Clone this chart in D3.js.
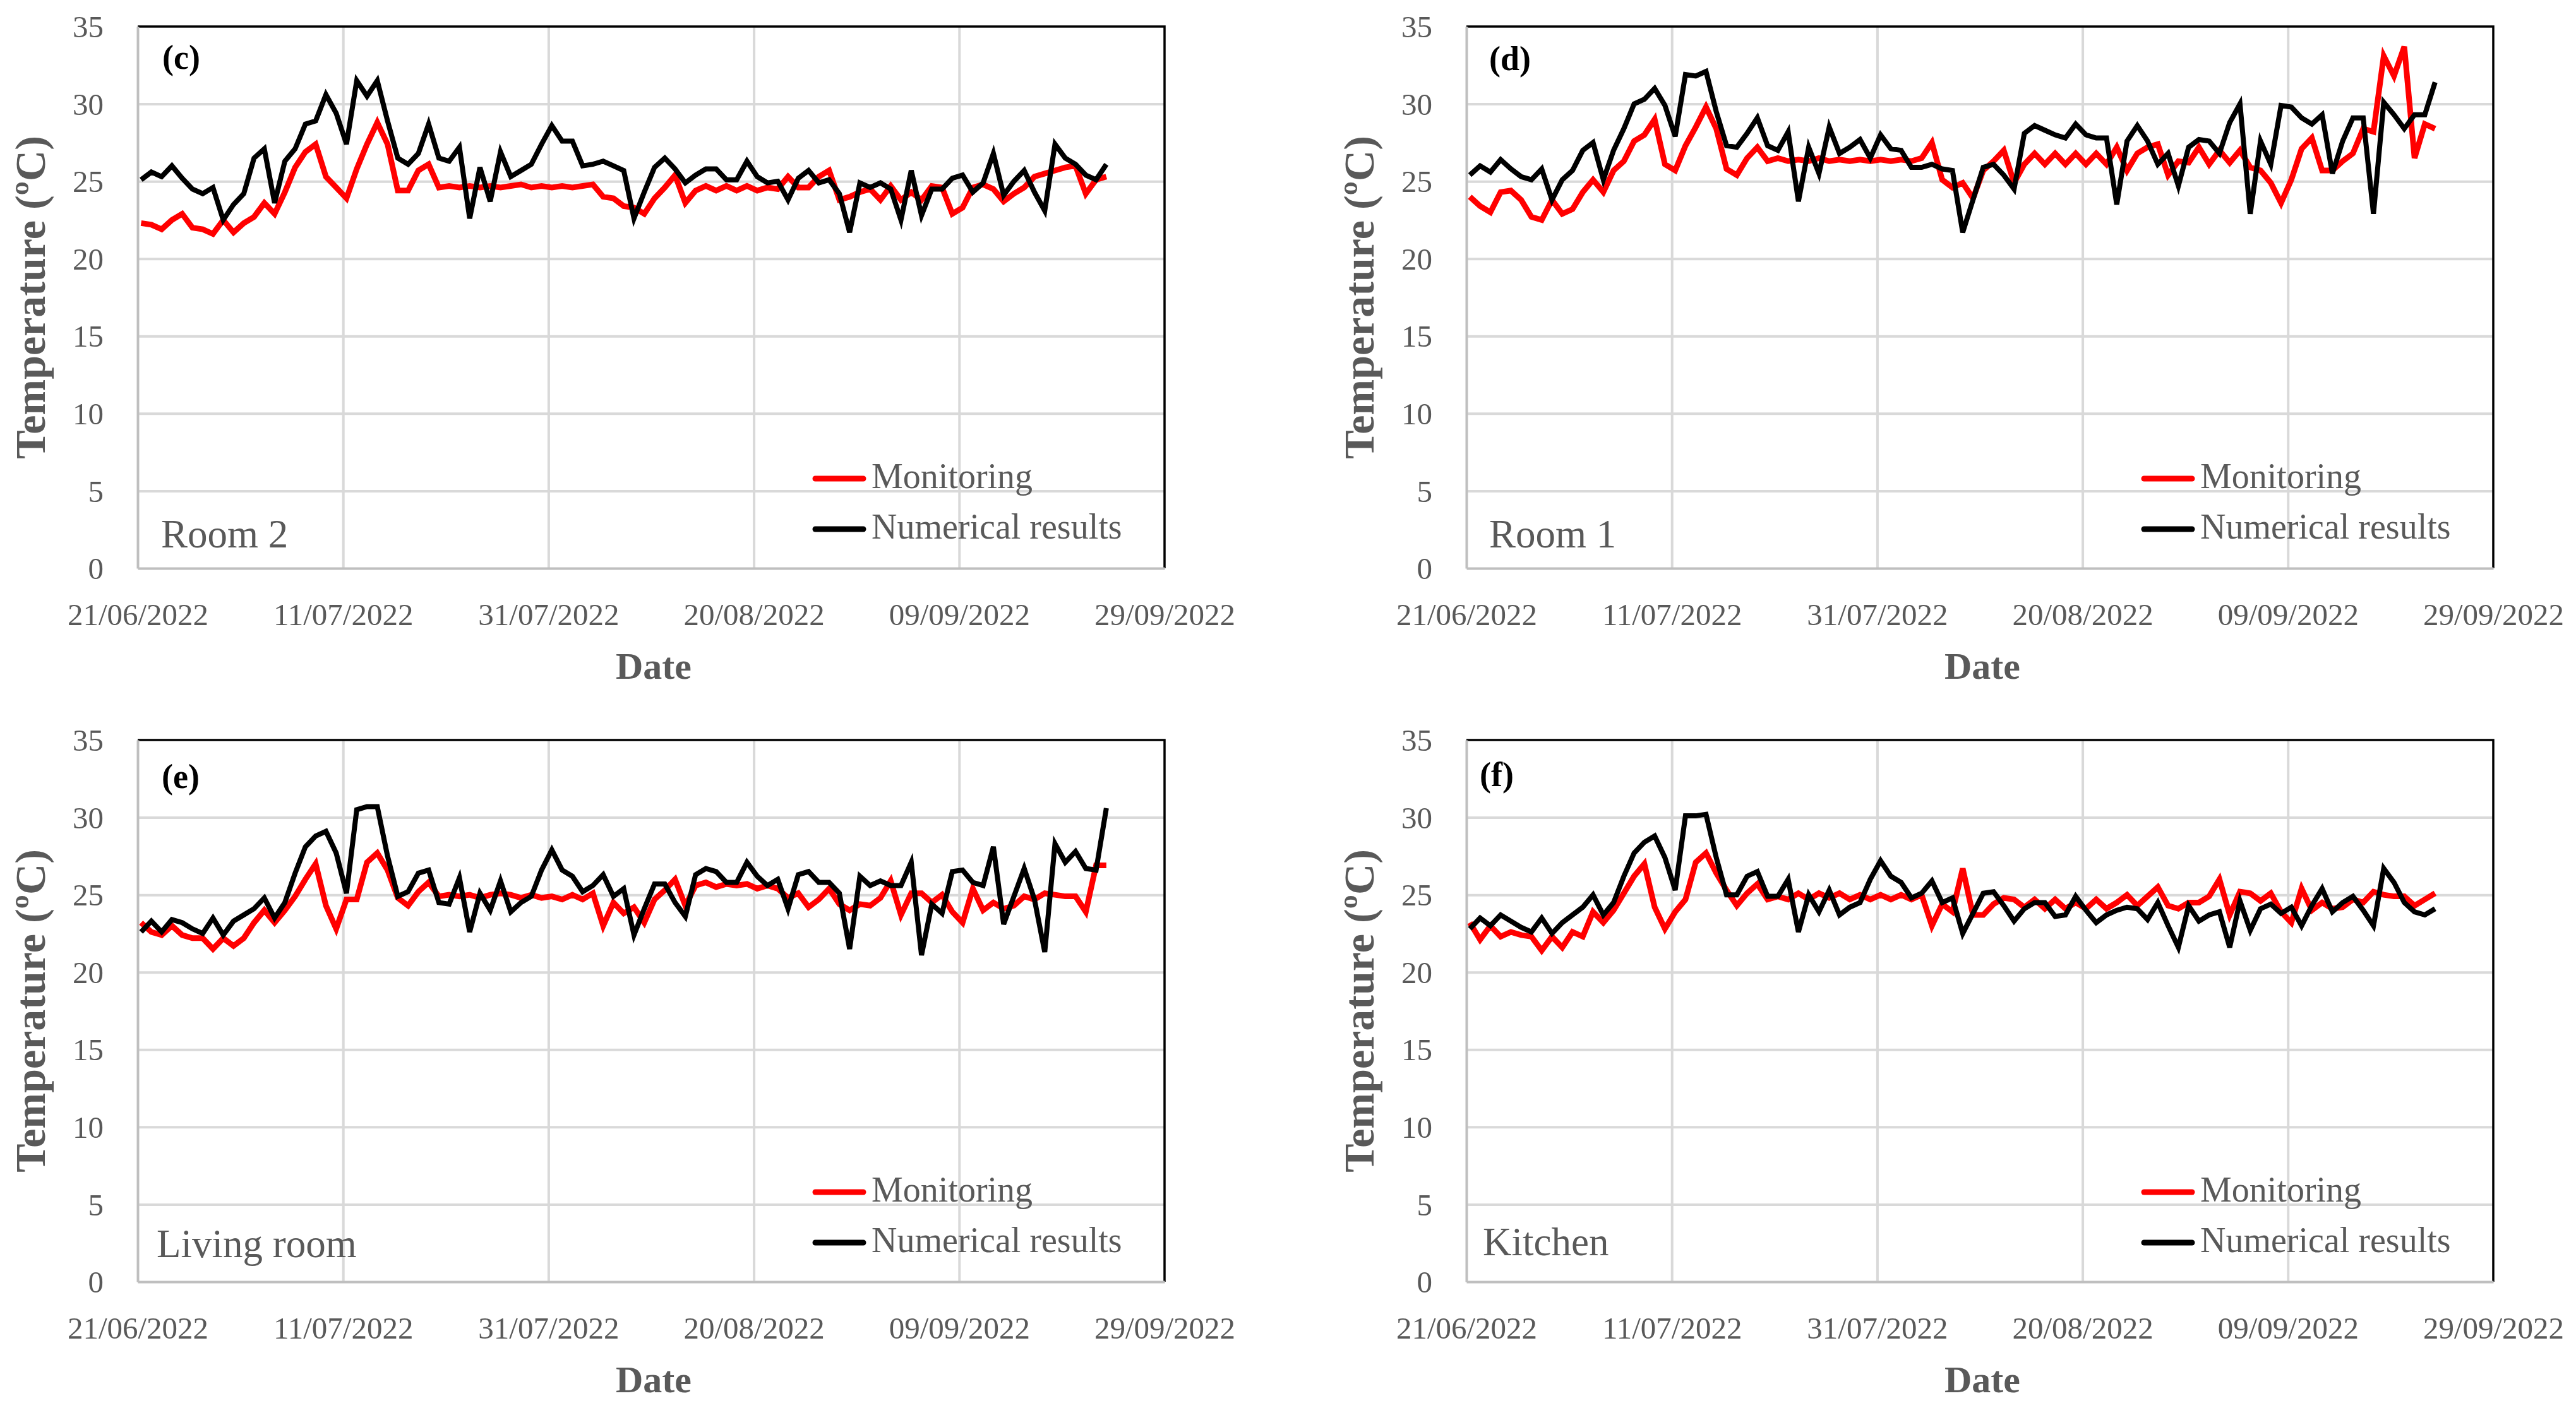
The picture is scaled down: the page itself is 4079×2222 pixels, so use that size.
<!DOCTYPE html>
<html>
<head>
<meta charset="utf-8">
<script src="https://cdn.jsdelivr.net/npm/d3@7"></script>
<style>
	body { margin: 0; background: #fff; }
</style>
</head>
<body>
<script>
// tick labels and category names
var xTickLabels = ['21/06/2022', '11/07/2022', '31/07/2022', '20/08/2022', '09/09/2022', '29/09/2022'],
	yTicks = [0, 5, 10, 15, 20, 25, 30, 35],
	panelIds = ['(c)', '(d)', '(e)', '(f)'],
	roomNames = ['Room 2', 'Room 1', 'Living room', 'Kitchen'],
	seriesNames = ['Monitoring', 'Numerical results'],
// first daily reading (just after the first tick)
	firstReading = '21/06/2022 08:00';

// daily values, one per day
var room2Monitoring = [22.3, 22.2, 21.9, 22.5, 22.9, 22.0, 21.9, 21.6, 22.5, 21.7,
	22.3, 22.7, 23.6, 22.9, 24.3, 25.9, 26.9, 27.4, 25.3, 24.6,
	23.9, 25.8, 27.4, 28.8, 27.4, 24.4, 24.4, 25.7, 26.1, 24.6,
	24.7, 24.6, 24.7, 24.6, 24.7, 24.6, 24.7, 24.8, 24.6, 24.7,
	24.6, 24.7, 24.6, 24.7, 24.8, 24.0, 23.9, 23.4, 23.3, 22.9,
	23.9, 24.6, 25.4, 23.6, 24.4, 24.7, 24.4, 24.7, 24.4, 24.7,
	24.4, 24.6, 24.5, 25.3, 24.6, 24.6, 25.3, 25.7, 23.8, 24.0,
	24.3, 24.5, 23.8, 24.7, 23.8, 24.3, 23.8, 24.7, 24.6, 22.9,
	23.3, 24.6, 24.8, 24.5, 23.7, 24.2, 24.6, 25.3, 25.5, 25.7,
	25.9, 26.0, 24.2, 25.1, 25.3];
var room2Numerical = [25.1, 25.6, 25.3, 26.0, 25.2, 24.5, 24.2, 24.6, 22.5, 23.5,
	24.2, 26.5, 27.1, 23.6, 26.3, 27.1, 28.7, 28.9, 30.6, 29.4,
	27.4, 31.5, 30.5, 31.5, 28.9, 26.5, 26.1, 26.8, 28.7, 26.5,
	26.3, 27.2, 22.6, 25.9, 23.7, 26.9, 25.3, 25.7, 26.1, 27.4,
	28.6, 27.6, 27.6, 26.0, 26.1, 26.3, 26.0, 25.7, 22.6, 24.3,
	25.9, 26.5, 25.8, 24.9, 25.4, 25.8, 25.8, 25.1, 25.1, 26.3,
	25.3, 24.9, 25.0, 23.8, 25.2, 25.7, 24.9, 25.1, 24.2, 21.7,
	24.9, 24.6, 24.9, 24.5, 22.5, 25.7, 22.8, 24.5, 24.5, 25.2,
	25.4, 24.3, 24.9, 26.8, 24.1, 25.0, 25.7, 24.3, 23.1, 27.4,
	26.5, 26.1, 25.4, 25.1, 26.1];
var room1Monitoring = [24.0, 23.4, 23.0, 24.3, 24.4, 23.8, 22.7, 22.5, 23.8, 22.9,
	23.2, 24.3, 25.1, 24.3, 25.7, 26.3, 27.6, 28.0, 29.0, 26.1,
	25.7, 27.3, 28.5, 29.8, 28.4, 25.8, 25.4, 26.5, 27.2, 26.3,
	26.5, 26.3, 26.4, 26.3, 26.5, 26.3, 26.4, 26.3, 26.4, 26.3,
	26.4, 26.3, 26.4, 26.3, 26.5, 27.5, 25.1, 24.6, 24.9, 23.9,
	25.7, 26.3, 27.0, 24.9, 26.1, 26.8, 26.1, 26.8, 26.1, 26.8,
	26.1, 26.8, 26.1, 27.2, 25.7, 26.8, 27.2, 27.4, 25.4, 26.3,
	26.2, 27.2, 26.1, 27.0, 26.2, 27.0, 25.9, 25.7, 24.9, 23.6,
	25.1, 27.1, 27.8, 25.7, 25.7, 26.3, 26.8, 28.4, 28.2, 33.1,
	31.8, 33.7, 26.5, 28.7, 28.4];
var room1Numerical = [25.4, 26.0, 25.6, 26.4, 25.8, 25.3, 25.1, 25.8, 23.8, 25.1,
	25.7, 27.0, 27.5, 25.1, 27.0, 28.4, 30.0, 30.3, 31.0, 29.9,
	27.9, 31.9, 31.8, 32.1, 29.5, 27.3, 27.2, 28.1, 29.1, 27.3,
	27.0, 28.2, 23.7, 27.2, 25.5, 28.5, 26.8, 27.2, 27.7, 26.5,
	28.0, 27.1, 27.0, 25.9, 25.9, 26.1, 25.8, 25.7, 21.7, 23.8,
	25.9, 26.1, 25.4, 24.5, 28.1, 28.6, 28.3, 28.0, 27.8, 28.7,
	28.0, 27.8, 27.8, 23.5, 27.6, 28.6, 27.6, 26.1, 26.8, 24.7,
	27.2, 27.7, 27.6, 26.8, 28.8, 30.0, 22.9, 27.6, 26.1, 29.9,
	29.8, 29.1, 28.7, 29.3, 25.5, 27.6, 29.1, 29.1, 22.9, 30.1,
	29.3, 28.4, 29.3, 29.3, 31.4];
var livingMonitoring = [23.2, 22.6, 22.4, 23.0, 22.4, 22.2, 22.2, 21.5, 22.2, 21.7,
	22.2, 23.2, 24.0, 23.2, 24.0, 24.9, 26.0, 27.0, 24.3, 22.8,
	24.7, 24.7, 27.1, 27.7, 26.6, 24.8, 24.3, 25.2, 25.8, 24.9,
	25.0, 24.9, 25.0, 24.8, 25.0, 25.1, 25.0, 24.8, 25.0, 24.8,
	24.9, 24.7, 25.0, 24.7, 25.1, 23.0, 24.5, 23.8, 24.2, 23.2,
	24.7, 25.3, 26.0, 24.3, 25.6, 25.8, 25.5, 25.7, 25.6, 25.7,
	25.4, 25.6, 25.4, 24.8, 25.1, 24.2, 24.7, 25.4, 24.4, 24.0,
	24.4, 24.3, 24.8, 25.9, 23.7, 25.1, 25.1, 24.5, 25.0, 23.9,
	23.2, 25.4, 24.0, 24.5, 24.1, 24.3, 24.9, 24.7, 25.1, 25.0,
	24.9, 24.9, 23.9, 26.9, 26.9];
var livingNumerical = [22.6, 23.3, 22.6, 23.4, 23.2, 22.8, 22.5, 23.5, 22.4, 23.3,
	23.7, 24.1, 24.8, 23.5, 24.5, 26.4, 28.1, 28.8, 29.1, 27.7,
	25.1, 30.5, 30.7, 30.7, 27.5, 24.9, 25.2, 26.4, 26.6, 24.5,
	24.4, 26.1, 22.6, 25.1, 24.0, 25.9, 23.9, 24.5, 24.9, 26.6,
	27.9, 26.6, 26.2, 25.2, 25.6, 26.3, 24.9, 25.4, 22.4, 24.1,
	25.7, 25.7, 24.5, 23.6, 26.3, 26.7, 26.5, 25.8, 25.8, 27.1,
	26.2, 25.6, 26.0, 24.1, 26.3, 26.5, 25.8, 25.8, 25.1, 21.5,
	26.2, 25.6, 25.9, 25.6, 25.6, 27.1, 21.1, 24.4, 23.8, 26.5,
	26.6, 25.8, 25.6, 28.1, 23.1, 24.9, 26.7, 24.7, 21.3, 28.3,
	27.1, 27.8, 26.7, 26.6, 30.6];
var kitchenMonitoring = [23.2, 22.1, 23.0, 22.3, 22.6, 22.4, 22.3, 21.4, 22.3, 21.6,
	22.6, 22.3, 23.9, 23.2, 24.0, 25.1, 26.2, 27.0, 24.2, 22.8,
	23.9, 24.7, 27.1, 27.7, 26.4, 25.3, 24.3, 25.1, 25.7, 24.7,
	24.9, 24.7, 25.1, 24.7, 25.1, 24.8, 25.1, 24.7, 25.0, 24.7,
	25.0, 24.7, 25.0, 24.7, 25.0, 23.0, 24.4, 23.9, 26.7, 23.7,
	23.7, 24.4, 24.8, 24.7, 24.2, 24.7, 24.1, 24.7, 24.1, 24.5,
	24.1, 24.7, 24.1, 24.5, 25.0, 24.3, 24.9, 25.5, 24.3, 24.1,
	24.5, 24.5, 24.9, 26.0, 23.7, 25.2, 25.1, 24.6, 25.1, 23.9,
	23.2, 25.4, 24.0, 24.5, 24.1, 24.2, 24.7, 24.5, 25.2, 25.0,
	24.9, 24.9, 24.3, 24.7, 25.1];
var kitchenNumerical = [22.8, 23.5, 23.0, 23.7, 23.3, 22.9, 22.6, 23.5, 22.5, 23.2,
	23.7, 24.2, 25.0, 23.7, 24.5, 26.2, 27.7, 28.4, 28.8, 27.4,
	25.3, 30.1, 30.1, 30.2, 27.4, 25.0, 25.0, 26.2, 26.5, 24.9,
	24.9, 26.0, 22.6, 25.0, 23.9, 25.3, 23.7, 24.2, 24.5, 26.0,
	27.2, 26.2, 25.8, 24.8, 25.1, 25.9, 24.5, 24.8, 22.5, 23.8,
	25.1, 25.2, 24.3, 23.3, 24.1, 24.5, 24.5, 23.6, 23.7, 24.9,
	24.0, 23.2, 23.7, 24.0, 24.2, 24.1, 23.4, 24.5, 23.0, 21.6,
	24.3, 23.3, 23.7, 23.9, 21.6, 24.6, 22.7, 24.1, 24.4, 23.8,
	24.2, 23.0, 24.3, 25.4, 23.9, 24.5, 24.9, 24.0, 23.0, 26.7,
	25.8, 24.5, 23.9, 23.7, 24.1];

var monitoringSeries = [room2Monitoring, room1Monitoring, livingMonitoring, kitchenMonitoring],
	numericalSeries = [room2Numerical, room1Numerical, livingNumerical, kitchenNumerical];

// sizing for the page and the four plot areas
var page_w = 4079, page_h = 2222,
	plot_w = 1626, plot_h = 858,
	col_x = [218, 2322], row_y = [42, 1172],
// panel letter and room label offsets inside each plot
	id_dx = [39, 36, 38, 21], id_dy = [67, 69, 76, 73],
	room_dx = [37, 36, 30, 26], room_dy = [825, 825, 819, 816],
// legend anchor inside each plot
	leg_dx = 1069, leg_dy = [716, 796];

// colors
var text_gray = '#595959', grid_gray = '#d9d9d9', axis_gray = '#bfbfbf',
	font = '"Liberation Serif", "Times New Roman", serif';

var parseTick = d3.utcParse('%d/%m/%Y'),
	parseStart = d3.utcParse('%d/%m/%Y %H:%M'),
	fmtTick = d3.utcFormat('%d/%m/%Y');

var xTicks = xTickLabels.map(parseTick);

var svg = d3.select('body').append('svg')
	.attr('width', page_w)
	.attr('height', page_h)
	.style('display', 'block');

svg.append('rect')
	.attr('width', page_w)
	.attr('height', page_h)
	.attr('fill', 'white');

// x and y scales shared by all panels (positions are local to each plot)
var x = d3.scaleUtc()
	.domain([xTicks[0], xTicks[xTicks.length - 1]])
	.range([0, plot_w]);
var y = d3.scaleLinear()
	.domain([yTicks[0], yTicks[yTicks.length - 1]])
	.range([plot_h, 0]);

// one date per reading
function readingDates(n) {
	var start = parseStart(firstReading), out = [];
	for (var i = 0; i < n; i++) {
		out.push(d3.utcDay.offset(start, i));
	}
	return out;
}

var line = d3.line()
	.x(function(d) { return x(d.date); })
	.y(function(d) { return y(d.v); });

// Draw one panel given its index (0..3)
function draw_panel(p) {
	var px = col_x[p % 2], py = row_y[Math.floor(p / 2)];
	var g = svg.append('g').attr('transform', 'translate(' + px + ',' + py + ')');

	// horizontal gridlines
	g.append('g')
		.call(d3.axisLeft(y).tickValues(yTicks.slice(1, -1)).tickSize(-plot_w).tickFormat(''))
		.call(function(s) {
			s.select('.domain').remove();
			s.selectAll('line').attr('stroke', grid_gray).attr('stroke-width', 4);
		});

	// vertical gridlines
	g.append('g')
		.attr('transform', 'translate(0,' + plot_h + ')')
		.call(d3.axisBottom(x).tickValues(xTicks.slice(1, -1)).tickSize(-plot_h).tickFormat(''))
		.call(function(s) {
			s.select('.domain').remove();
			s.selectAll('line').attr('stroke', grid_gray).attr('stroke-width', 4);
		});

	// top and right border of the plot area
	g.append('path')
		.attr('d', 'M0,0H' + plot_w + 'V' + plot_h)
		.attr('fill', 'none')
		.attr('stroke', 'black')
		.attr('stroke-width', 3.5);

	// y axis with labels
	g.append('g')
		.call(d3.axisLeft(y).tickValues(yTicks).tickSize(0).tickPadding(54))
		.call(function(s) {
			s.select('.domain').attr('stroke', axis_gray).attr('stroke-width', 4);
			s.selectAll('text')
				.attr('fill', text_gray)
				.attr('font-family', font)
				.attr('font-size', 49)
				.attr('dy', '0.34em');
		});

	// x axis with date labels
	g.append('g')
		.attr('transform', 'translate(0,' + plot_h + ')')
		.call(d3.axisBottom(x).tickValues(xTicks).tickSize(0).tickFormat(fmtTick))
		.call(function(s) {
			s.select('.domain').attr('stroke', axis_gray).attr('stroke-width', 4);
			s.selectAll('text')
				.attr('fill', text_gray)
				.attr('font-family', font)
				.attr('font-size', 49)
				.attr('y', 90)
				.attr('dy', 0);
		});

	// data lines, monitoring first, numerical results on top
	var dates = readingDates(monitoringSeries[p].length);
	var colors = ['#ff0000', '#000000'], widths = [9, 8];
	[monitoringSeries[p], numericalSeries[p]].forEach(function(vals, k) {
		g.append('path')
			.datum(vals.map(function(v, i) { return {date: dates[i], v: v}; }))
			.attr('d', line)
			.attr('fill', 'none')
			.attr('stroke', colors[k])
			.attr('stroke-width', widths[k])
			.attr('stroke-linejoin', 'miter');
	});

	// panel letter
	g.append('text')
		.text(panelIds[p])
		.attr('x', id_dx[p])
		.attr('y', id_dy[p])
		.attr('font-family', font)
		.attr('font-weight', 'bold')
		.attr('font-size', 54)
		.attr('fill', 'black');

	// room label
	g.append('text')
		.text(roomNames[p])
		.attr('x', room_dx[p])
		.attr('y', room_dy[p])
		.attr('font-family', font)
		.attr('font-size', 63)
		.attr('fill', text_gray);

	// legend
	seriesNames.forEach(function(name, k) {
		g.append('line')
			.attr('x1', leg_dx + 4)
			.attr('x2', leg_dx + 80)
			.attr('y1', leg_dy[k])
			.attr('y2', leg_dy[k])
			.attr('stroke', colors[k])
			.attr('stroke-width', 9)
			.attr('stroke-linecap', 'round');
		g.append('text')
			.text(name)
			.attr('x', leg_dx + 93)
			.attr('y', leg_dy[k] + 15)
			.attr('font-family', font)
			.attr('font-size', 56)
			.attr('fill', text_gray);
	});

	// axis titles
	g.append('text')
		.text('Temperature (ºC)')
		.attr('transform', 'translate(-147,' + (plot_h / 2) + ') rotate(-90)')
		.attr('text-anchor', 'middle')
		.attr('font-family', font)
		.attr('font-weight', 'bold')
		.attr('font-size', 68)
		.attr('fill', text_gray);

	g.append('text')
		.text('Date')
		.attr('x', plot_w / 2 + 4)
		.attr('y', plot_h + 175)
		.attr('text-anchor', 'middle')
		.attr('font-family', font)
		.attr('font-weight', 'bold')
		.attr('font-size', 60)
		.attr('fill', text_gray);
}

for (var p = 0; p < 4; p++) {
	draw_panel(p);
}
</script>
</body>
</html>
